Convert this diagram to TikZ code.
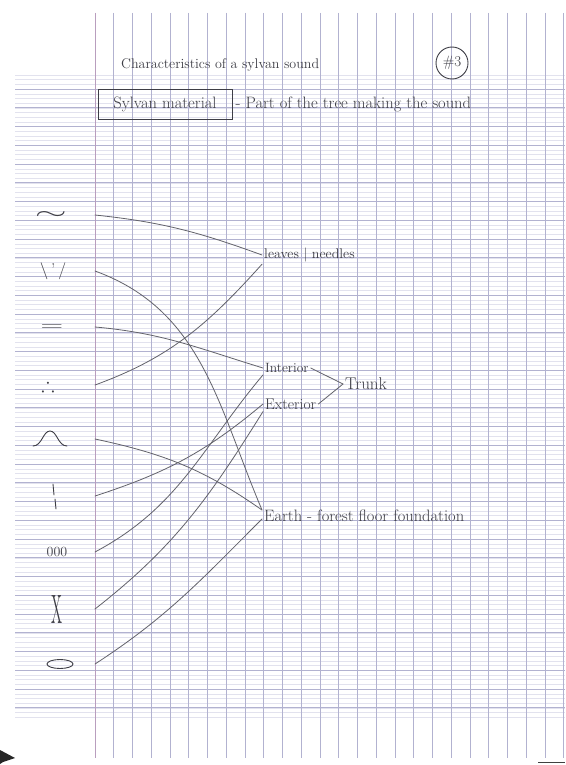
\documentclass[tikz,border=0pt]{standalone}
\usepackage{amsmath}
\usepackage{amssymb}
\usepackage{graphicx}
\usepackage{xcolor}
\usetikzlibrary{shapes.geometric, calc}

\definecolor{ink}{RGB}{62,62,70}
\definecolor{pencil}{RGB}{98,98,106}
\definecolor{gridmajor}{RGB}{178,178,208}
\definecolor{gridminor}{RGB}{226,226,238}
\definecolor{marginline}{RGB}{185,158,190}

\begin{document}
\begin{tikzpicture}[x=1pt, y=1pt,
    lbl/.style={anchor=west, inner sep=2pt, text=ink, font=\fontsize{13}{15}\selectfont},
    sym/.style={inner sep=0pt, text=ink, font=\fontsize{13}{15}\selectfont},
    pen/.style={draw=ink, line width=0.9pt, line cap=round},
    link/.style={draw=pencil, line width=0.8pt, line cap=round}]

% Page and ruling
\path[fill=white, use as bounding box] (0,0) rectangle (565,-765);
\foreach \i in {0,...,137}
  \draw[gridminor, line width=0.35pt] (15,{-74.94-4.6875*\i}) -- (565,{-74.94-4.6875*\i});
\foreach \k in {0,...,33}
  \draw[gridmajor, line width=0.55pt] (15,{-89-18.75*\k}) -- (565,{-89-18.75*\k});
\foreach \k in {1,...,25}
  \draw[gridmajor, line width=0.55pt] ({95+18.75*\k},-13) -- ({95+18.75*\k},-758);
\draw[marginline, line width=0.6pt] (95,-13) -- (95,-758);
\coordinate (margin) at (95,0);
\fill[black!85] (0,-750) -- (15,-758) -- (3,-762) -- (0,-764) -- cycle;
\draw[black!75, line width=0.9pt] (538,-762) -- (565,-762);

% Heading
\node[lbl, anchor=base west, font=\fontsize{14}{16}\selectfont] (title) at (119,-69) {Characteristics of a sylvan sound};
\node[draw=ink, circle, line width=0.9pt, minimum size=32pt, inner sep=0pt, text=ink, font=\fontsize{15}{17}\selectfont] (num) at (452,-63) {\#3};
\node[draw=ink, line width=0.9pt, minimum width=134pt, minimum height=30pt, text=ink, font=\fontsize{16.5}{18}\selectfont] (material) at (165,-104) {Sylvan material};
\node[lbl, font=\fontsize{16.5}{18}\selectfont, xshift=1pt] (part) at (material.east) {- Part of the tree making the sound};

% Sound symbols
\node[sym] (s1) at (51,-215) {\resizebox{32pt}{8pt}{$\sim$}};
\node[sym, font=\fontsize{17}{19}\selectfont] (s2) at (53,-271) {\textbackslash\,'\,/};
\node[sym] (s3) at (52,-327) {\resizebox{23pt}{6pt}{$=$}};
\node[sym, font=\fontsize{20}{22}\selectfont] (s4) at (48,-385) {$\therefore$};
\node[sym, minimum width=34pt, minimum height=15pt] (s5) at (50,-439) {};
\draw[pen, shift={(s5.center)}] (-17,-7) .. controls (-8,-7) and (-7,8) .. (0,8) .. controls (7,8) and (8,-7) .. (17,-7);
\node[sym, minimum width=8pt, minimum height=26pt] (s6) at (54,-496) {};
\draw[pen, shift={(s6.center)}] (-1,12) -- (0,1) (1,-3) -- (2,-13);
\node[sym, font=\fontsize{14}{16}\selectfont] (s7) at (57,-552) {000};
\node[sym] (s8) at (57,-609) {\resizebox{11pt}{28pt}{X}};
\node[draw=ink, ellipse, line width=0.9pt, minimum width=26pt, minimum height=9pt, inner sep=0pt] (s9) at (60,-664) {};

% Parts of the tree
\node[lbl, font=\fontsize{14}{16}\selectfont] (leaves) at (262,-255) {leaves | needles};
\node[lbl, font=\fontsize{13.5}{15}\selectfont] (interior) at (263,-368) {Interior};
\node[lbl, font=\fontsize{15.5}{17}\selectfont] (exterior) at (263,-404) {Exterior};
\node[lbl, font=\fontsize{17}{19}\selectfont] (trunk) at (343,-384) {Trunk};
\node[lbl, font=\fontsize{16.5}{18}\selectfont] (earth) at (262,-516) {Earth - forest floor foundation};

% Links
\draw[link] (s1 -| margin) to[out=-6, in=160] (leaves.west);
\draw[link] (s2 -| margin) to[out=-20, in=113] ($(earth.west)+(0,6)$);
\draw[link] (s3 -| margin) to[out=-5, in=163] (interior.west);
\draw[link] (s4 -| margin) to[out=20, in=228] (leaves.south west);
\draw[link] (s5 -| margin) to[out=-12, in=145] ($(earth.west)+(0,6)$);
\draw[link] (s6 -| margin) to[out=18, in=220] (exterior.west);
\draw[link] (s7 -| margin) to[out=28, in=230] (interior.south west);
\draw[link] (s8 -| margin) to[out=38, in=238] (exterior.south west);
\draw[link] (s9 -| margin) to[out=33, in=225] ($(earth.west)+(0,-3)$);
\draw[link] (interior.east) -- (trunk.west);
\draw[link] (exterior.east) -- (trunk.west);

\end{tikzpicture}
\end{document}
